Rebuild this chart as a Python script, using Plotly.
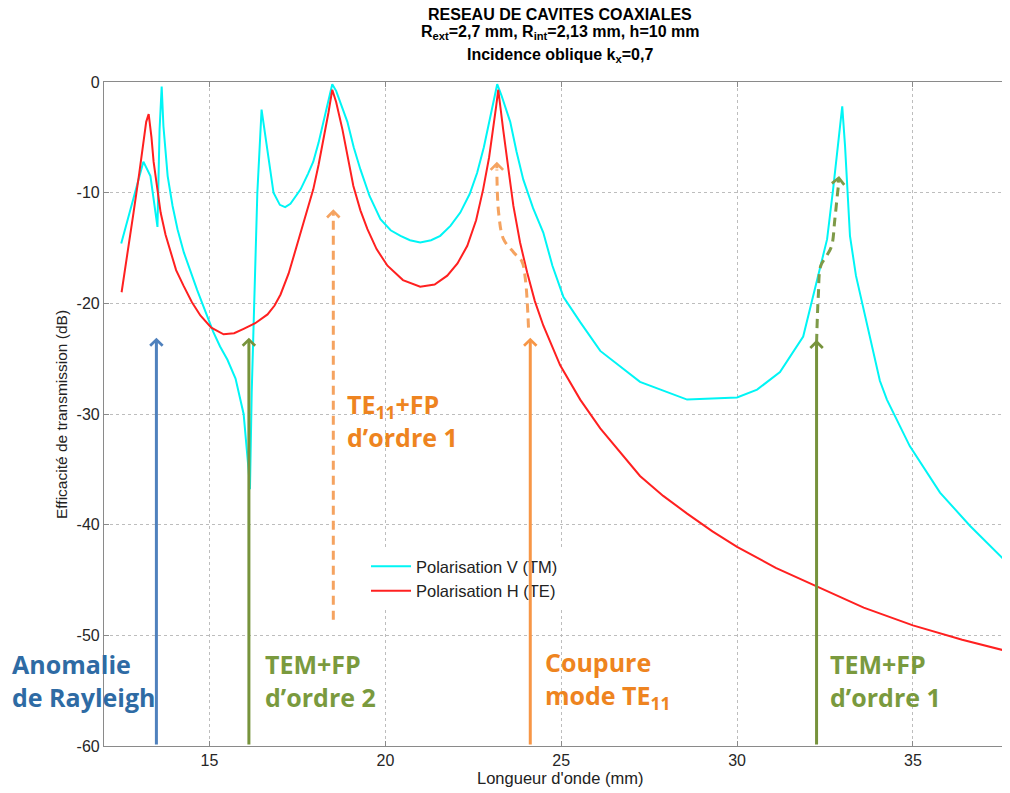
import plotly.graph_objects as go

# ---------------- data ----------------
tm_x = [12.49, 12.81, 13.12, 13.32, 13.52, 13.58, 13.64, 13.69, 13.81, 13.95, 14.09, 14.27,
        14.46, 14.65, 14.83, 15.11, 15.30, 15.51, 15.74, 15.97, 16.11, 16.15, 16.20, 16.36,
        16.48, 16.65, 16.82, 17.00, 17.15, 17.30, 17.59, 17.80, 17.95, 18.10, 18.24, 18.38,
        18.49, 18.60, 18.75, 18.92, 19.10, 19.29, 19.55, 19.86, 20.15, 20.43, 20.70, 20.99,
        21.30, 21.56, 21.85, 22.13, 22.40, 22.61, 22.80, 22.98, 23.10, 23.18, 23.30, 23.42,
        23.55, 23.73, 23.92, 24.20, 24.49, 24.75, 25.06, 25.54, 26.11, 27.24, 28.58, 30.00,
        30.57, 31.22, 31.88, 32.56, 32.73, 32.99, 33.07, 33.21, 33.38, 34.06, 34.26, 34.91,
        35.77, 36.62, 37.76]
tm_y = [-14.6, -10.9, -7.2, -8.5, -13.1, -4.3, -0.4, -4.0, -8.5, -11.2, -13.3, -15.4,
        -17.2, -18.8, -20.3, -22.6, -23.9, -25.1, -26.8, -30.0, -35.0, -36.8, -28.0, -10.0,
        -2.5, -6.4, -10.0, -11.1, -11.3, -11.0, -9.7, -8.3, -7.2, -5.5, -3.6, -1.6,
        -0.2, -0.8, -2.2, -3.6, -5.9, -7.9, -10.3, -12.4, -13.4, -13.9, -14.3, -14.5,
        -14.3, -13.9, -13.0, -11.8, -10.1, -8.2, -5.9, -3.3, -1.3, -0.2, -1.2, -2.4,
        -3.6, -6.3, -8.8, -11.4, -13.6, -16.6, -19.4, -21.7, -24.3, -27.1, -28.7, -28.5,
        -27.8, -26.2, -23.0, -14.2, -9.7, -2.2, -5.8, -13.9, -17.5, -27.0, -28.7, -32.9,
        -37.1, -40.1, -43.7]

te_x = [12.50, 12.70, 12.84, 13.00, 13.10, 13.20, 13.27, 13.35, 13.41, 13.50, 13.61, 13.75,
        13.89, 14.05, 14.26, 14.50, 14.74, 15.05, 15.40, 15.70, 15.97, 16.30, 16.65, 16.85,
        17.02, 17.25, 17.50, 17.75, 17.95, 18.10, 18.24, 18.38, 18.49, 18.60, 18.78, 18.93,
        19.09, 19.29, 19.49, 19.75, 20.06, 20.50, 20.99, 21.40, 21.76, 22.05, 22.33, 22.58,
        22.78, 22.95, 23.07, 23.15, 23.21, 23.28, 23.35, 23.50, 23.64, 23.83, 24.03, 24.25,
        24.49, 24.97, 25.54, 26.11, 26.70, 27.24, 27.90, 28.58, 29.30, 30.00, 31.10, 32.27,
        33.60, 35.00, 36.40, 37.76]
te_y = [-19.0, -15.0, -11.8, -8.3, -5.8, -3.6, -2.9, -5.0, -7.2, -9.5, -11.8, -13.8,
        -15.4, -17.0, -18.4, -19.9, -21.1, -22.2, -22.8, -22.7, -22.3, -21.8, -21.0, -20.2,
        -19.2, -17.3, -14.6, -11.9, -9.7, -7.5, -5.2, -2.8, -0.7, -1.8, -4.3, -6.9,
        -9.4, -11.6, -13.3, -15.1, -16.6, -17.9, -18.5, -18.3, -17.5, -16.4, -14.8, -12.5,
        -9.7, -6.8, -4.3, -2.2, -0.7, -2.3, -4.3, -7.9, -11.2, -14.5, -17.2, -19.8,
        -22.0, -25.6, -28.7, -31.3, -33.6, -35.6, -37.4, -39.0, -40.6, -42.0, -43.9, -45.6,
        -47.5, -49.1, -50.4, -51.5]

series_names = ["Polarisation V (TM)", "Polarisation H (TE)"]
x_ticks = [15, 20, 25, 30, 35]
x_ticktext = ["15", "20", "25", "30", "35"]
y_ticks = [0, -10, -20, -30, -40, -50, -60]
y_ticktext = ["0", "-10", "-20", "-30", "-40", "-50", "-60"]

# solid arrows (x position, tip y), base at bottom of axis
arrow_x = [13.49, 16.12, 24.12, 32.26]
arrow_tip = [-23.1, -23.1, -23.1, -23.3]
arrow_colors = ["#4F81BD", "#77933C", "#F79646", "#77933C"]

# dashed arrows (paths)
dash1_x = [18.52, 18.52]
dash1_y = [-48.6, -12.2]
dash2_x = [24.07, 23.98, 23.88, 23.65, 23.36, 23.22, 23.17]
dash2_y = [-22.2, -17.8, -16.2, -15.4, -14.2, -11.8, -7.9]
dash3_x = [32.26, 32.31, 32.38, 32.55, 32.69, 32.78, 32.88, 32.90]
dash3_y = [-23.6, -19.3, -16.6, -15.7, -14.8, -12.4, -9.4, -9.0]

labels = ["Anomalie<br>de Rayleigh", "TEM+FP<br>d’ordre 2", "Coupure<br>mode TE<sub>11</sub>",
          "TEM+FP<br>d’ordre 1", "TE<sub>11</sub>+FP<br>d’ordre 1"]

# ---------------- figure ----------------
OFF = 8  # default page body margin
W, H = 1010 - OFF, 793 - OFF
ML, MR, MT, MB = 104 - OFF, 0, 82 - OFF, 47
PW, PH = W - ML - MR, H - MT - MB

def px2paper(px, py):
    # px, py are page pixel coordinates of the reference
    return (px - OFF - ML) / PW, (H - MB - (py - OFF)) / PH

fig = go.Figure()
fig.add_trace(go.Scatter(x=tm_x, y=tm_y, mode="lines", name=series_names[0],
                         line=dict(color="#00F5F5", width=2)))
fig.add_trace(go.Scatter(x=te_x, y=te_y, mode="lines", name=series_names[1],
                         line=dict(color="#FF2020", width=2)))

orange_dash = "#F5A360"
green_dash = "#7E9A48"
for dx, dy, col in [(dash1_x, dash1_y, orange_dash), (dash2_x, dash2_y, orange_dash),
                    (dash3_x, dash3_y, green_dash)]:
    fig.add_trace(go.Scatter(x=dx, y=dy, mode="lines", showlegend=False, hoverinfo="skip",
                             line=dict(color=col, width=3, dash="9px,6px", shape="spline")))

ann = []
for ax_, tip, col in zip(arrow_x, arrow_tip, arrow_colors):
    ann.append(dict(x=ax_, y=tip, ax=ax_, ay=-60, xref="x", yref="y", axref="x", ayref="y",
                    showarrow=True, arrowhead=4, arrowsize=0.8, arrowwidth=3, arrowcolor=col,
                    text=""))
# arrow heads for dashed arrows
for hx, hy, col, offx, offy in [(dash1_x[-1], -11.5, orange_dash, 0, 8),
                                (dash2_x[-1], -7.2, orange_dash, 0, 8),
                                (dash3_x[-1], -8.5, green_dash, -1, 8)]:
    ann.append(dict(x=hx, y=hy, ax=offx, ay=offy, xref="x", yref="y",
                    showarrow=True, arrowhead=4, arrowsize=0.8, arrowwidth=3, arrowcolor=col,
                    text=""))

lab_font = "Open Sans"
lab_pos = [(10, 680, "#2E6BA4"), (263, 680, "#7A9A3E"), (543, 680, "#EE8420"),
           (828, 680, "#7A9A3E"), (345, 420, "#EE8420")]
for t, (px, py, col) in zip(labels, lab_pos):
    xp, yp = px2paper(px, py)
    ann.append(dict(x=xp, y=yp, xref="paper", yref="paper", xanchor="left", yanchor="middle",
                    showarrow=False, align="left", text="<b>" + t + "</b>",
                    font=dict(family=lab_font, size=25, color=col)))

# titles
title_lines = ["<b>RESEAU DE CAVITES COAXIALES</b>",
               "<b>R<sub>ext</sub>=2,7 mm, R<sub>int</sub>=2,13 mm, h=10 mm</b>",
               "<b>Incidence oblique k<sub>x</sub>=0,7</b>"]
for t, py in zip(title_lines, [14, 33, 56]):
    xp, yp = px2paper(560, py)
    ann.append(dict(x=xp, y=yp, xref="paper", yref="paper", xanchor="center", yanchor="middle",
                    showarrow=False, text=t,
                    font=dict(family="Liberation Sans", size=16, color="#000")))

xp, yp = px2paper(560, 778)
ann.append(dict(x=xp, y=yp, xref="paper", yref="paper", xanchor="center", yanchor="middle",
                showarrow=False, text="Longueur d'onde (mm)",
                font=dict(family="Liberation Sans", size=16.5, color="#222")))
xp, yp = px2paper(61, 415)
ann.append(dict(x=xp, y=yp, xref="paper", yref="paper", xanchor="center", yanchor="middle",
                showarrow=False, text="Efficacité de transmission (dB)", textangle=-90,
                font=dict(family="Liberation Sans", size=15.5, color="#222")))

axis_common = dict(showgrid=True, griddash="dot", gridcolor="#BDBDBD", gridwidth=1,
                   zeroline=False, showline=True, linecolor="#8A8A8A", linewidth=1.2,
                   mirror="ticks", ticks="inside", ticklen=5, tickcolor="#8A8A8A",
                   tickfont=dict(family="Liberation Sans", size=16, color="#262626"),
                   automargin=False)

lx, ly = px2paper(366, 549)
fig.update_layout(
    width=W, height=H,
    margin=dict(l=ML, r=MR, t=MT, b=MB),
    paper_bgcolor="white", plot_bgcolor="white",
    xaxis=dict(range=[12.0, 37.76], tickvals=x_ticks, ticktext=x_ticktext, **axis_common),
    yaxis=dict(range=[-60, 0], tickvals=y_ticks, ticktext=y_ticktext, **axis_common),
    annotations=ann,
    showlegend=True,
    legend=dict(x=lx, y=ly, xanchor="left", yanchor="top", bgcolor="rgba(255,255,255,1)",
                font=dict(family="Liberation Sans", size=16.5, color="#222"),
                tracegroupgap=0, itemwidth=40),
)

fig.write_html("out.html")
